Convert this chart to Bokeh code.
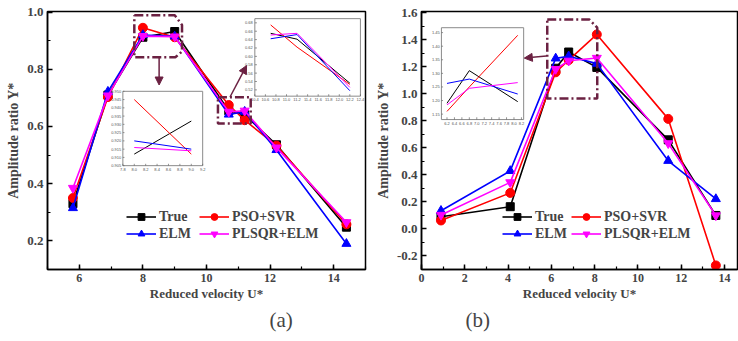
from bokeh.plotting import figure
from bokeh.layouts import row
from bokeh.models import (Range1d, SingleIntervalTicker, NumeralTickFormatter, Legend,
                          LegendItem, Arrow, NormalHead, Title)
from bokeh.embed import file_html
from bokeh.resources import INLINE

# ---------------- data ----------------
series_names = ["True", "PSO+SVR", "ELM", "PLSQR+ELM"]

# panel (a)
x_a = [5.8, 6.9, 8.0, 9.0, 10.7, 11.2, 12.2, 14.4]
true_a = [0.33, 0.71, 0.912, 0.932, 0.655, 0.641, 0.536, 0.248]
pso_a = [0.35, 0.703, 0.945, 0.912, 0.675, 0.622, 0.533, 0.258]
elm_a = [0.315, 0.722, 0.920, 0.915, 0.642, 0.652, 0.518, 0.19]
plsqr_a = [0.385, 0.708, 0.916, 0.914, 0.651, 0.655, 0.526, 0.265]

# panel (b)
x_b = [0.9, 4.1, 6.2, 6.8, 8.1, 11.4, 13.6]
true_b = [0.09, 0.165, 1.19, 1.31, 1.196, 0.66, 0.10]
pso_b = [0.063, 0.267, 1.16, 1.25, 1.44, 0.815, -0.27]
elm_b = [0.135, 0.43, 1.263, 1.279, 1.224, 0.505, 0.222]
plsqr_b = [0.104, 0.345, 1.184, 1.245, 1.266, 0.634, 0.10]

# inset tick values
inset_a1_xticks = [7.8, 8.0, 8.2, 8.4, 8.6, 8.8, 9.0, 9.2]
inset_a1_yticks = [0.905, 0.910, 0.915, 0.920, 0.925, 0.930, 0.935, 0.940, 0.945, 0.950]
inset_a2_xticks = [10.4, 10.6, 10.8, 11.0, 11.2, 11.4, 11.6, 11.8, 12.0, 12.2, 12.4]
inset_a2_yticks = [0.52, 0.54, 0.56, 0.58, 0.60, 0.62, 0.64, 0.66, 0.68]
inset_b_xticks = [6.2, 6.4, 6.6, 6.8, 7.0, 7.2, 7.4, 7.6, 7.8, 8.0, 8.2]
inset_b_yticks = [1.15, 1.20, 1.25, 1.30, 1.35, 1.40, 1.45]

# ---------------- styles ----------------
colors = ["#000000", "#ff0000", "#0000ff", "#ff00ff"]
markers = ["square", "circle", "triangle", "inverted_triangle"]
msizes = [8, 9, 9, 9]
FONT = "Liberation Serif"
MAROON = "#6b2142"


def style_axes(p, xint, yint):
    p.xaxis.ticker = SingleIntervalTicker(interval=xint, num_minor_ticks=2)
    p.yaxis.ticker = SingleIntervalTicker(interval=yint, num_minor_ticks=2)
    p.yaxis.formatter = NumeralTickFormatter(format="0.0")
    for ax in (p.xaxis[0], p.yaxis[0]):
        ax.axis_line_width = 1.5
        ax.major_tick_in = 5
        ax.major_tick_out = 0
        ax.minor_tick_in = 3
        ax.minor_tick_out = 0
        ax.major_tick_line_width = 1.5
        ax.minor_tick_line_width = 1.2
        ax.major_label_text_font = FONT
        ax.major_label_text_font_style = "bold"
        ax.axis_label_text_font = FONT
        ax.axis_label_text_font_style = "bold"
    p.xaxis.major_label_text_font_size = "12px"
    p.yaxis.major_label_text_font_size = "13px"
    p.xaxis.major_label_standoff = 4
    p.yaxis.major_label_standoff = 4
    p.xaxis.axis_label = "Reduced velocity U*"
    p.yaxis.axis_label = "Amplitude ratio Y*"
    p.xaxis.axis_label_text_font_size = "13px"
    p.yaxis.axis_label_text_font_size = "14px"
    p.xaxis.axis_label_standoff = 1
    p.yaxis.axis_label_standoff = 3
    p.grid.visible = False
    p.outline_line_color = "black"
    p.outline_line_width = 1.5


def draw_series(p, xs, series):
    items = []
    for name, ys, c, m, s in zip(series_names, series, colors, markers, msizes):
        r1 = p.line(xs, ys, line_color=c, line_width=1.6)
        r2 = p.scatter(xs, ys, marker=m, size=s, fill_color=c, line_color=c)
        items.append(LegendItem(label=name, renderers=[r1, r2]))
    return items


def add_legend(p, items, loc, label_width):
    lg = Legend(items=items, orientation="horizontal", nrows=2, location=loc,
                glyph_width=30, glyph_height=17, label_height=17, label_width=label_width,
                label_standoff=3, spacing=0, padding=0, margin=0, border_line_alpha=0,
                background_fill_alpha=0, label_text_font=FONT,
                label_text_font_style="bold", label_text_font_size="14px")
    p.add_layout(lg)


def add_inset(p, xs, series, xsrc, ysrc, xtgt, ytgt, xticks, yticks, xfmt, yfmt):
    sub = p.subplot(x_source=Range1d(*xsrc), y_source=Range1d(*ysrc),
                    x_target=Range1d(*xtgt), y_target=Range1d(*ytgt))
    sub.quad(left=[xsrc[0]], right=[xsrc[1]], bottom=[ysrc[0]], top=[ysrc[1]],
             fill_color="white", line_color="#8a8a8a", line_width=1)
    idx = [i for i, x in enumerate(xs) if xsrc[0] <= x <= xsrc[1]]
    for ys, c in zip(series, colors):
        sub.line([xs[i] for i in idx], [ys[i] for i in idx], line_color=c, line_width=1)
    dy = (ysrc[1] - ysrc[0]) * 0.025
    dx = (xsrc[1] - xsrc[0]) * 0.02
    nx, ny = len(xticks), len(yticks)
    sub.segment(x0=xticks, y0=[ysrc[0]] * nx, x1=xticks, y1=[ysrc[0] + dy] * nx,
                line_color="#666666", line_width=0.7)
    sub.segment(x0=[xsrc[0]] * ny, y0=yticks, x1=[xsrc[0] + dx] * ny, y1=yticks,
                line_color="#666666", line_width=0.7)
    sub.text(x=xticks, y=[ysrc[0] - dy] * nx, text=[xfmt.format(t) for t in xticks],
             text_font_size="4px", text_align="center", text_baseline="top",
             text_color="#555555")
    sub.text(x=[xsrc[0] - dx] * ny, y=yticks, text=[yfmt.format(t) for t in yticks],
             text_font_size="4px", text_align="right", text_baseline="middle",
             text_color="#555555")


def dash_box(p, xs, ys):
    p.line(xs, ys, line_color=MAROON, line_width=2.5, line_dash="9 3 2 3")


def arrow(p, x0, y0, x1, y1):
    p.add_layout(Arrow(end=NormalHead(size=8, fill_color=MAROON, line_color=MAROON),
                       x_start=x0, y_start=y0, x_end=x1, y_end=y1,
                       line_color=MAROON, line_width=1.5))


def caption(p, text, offset):
    p.add_layout(Title(text=text, align="left", offset=offset, text_font=FONT,
                       text_font_size="21px", text_font_style="normal", standoff=4),
                 "below")


# ---------------- panel (a) ----------------
pa = figure(width=370, height=333, x_range=Range1d(5.0, 15.0), y_range=Range1d(0.1, 1.002),
            output_backend="svg", toolbar_location=None,
            min_border_left=47, min_border_right=5, min_border_top=11, min_border_bottom=61)
style_axes(pa, 2, 0.2)
items_a = draw_series(pa, x_a, [true_a, pso_a, elm_a, plsqr_a])
add_legend(pa, items_a, (79, 27), 40)
add_inset(pa, x_a, [true_a, pso_a, elm_a, plsqr_a], (7.8, 9.2), (0.905, 0.95),
          (7.37, 9.88), (0.463, 0.723), inset_a1_xticks, inset_a1_yticks, "{:.1f}", "{:.3f}")
add_inset(pa, x_a, [true_a, pso_a, elm_a, plsqr_a], (10.4, 12.4), (0.505, 0.69),
          (11.52, 14.84), (0.706, 0.977), inset_a2_xticks, inset_a2_yticks, "{:.1f}", "{:.2f}")
dash_box(pa, [7.73, 9.0, 9.23, 9.23, 9.02, 7.73, 7.73],
         [0.989, 0.989, 0.955, 0.862, 0.842, 0.842, 0.989])
dash_box(pa, [10.36, 11.39, 11.39, 10.36, 10.36], [0.702, 0.702, 0.61, 0.61, 0.702])
arrow(pa, 8.51, 0.842, 8.51, 0.745)
arrow(pa, 10.74, 0.703, 11.26, 0.813)
caption(pa, "(a)", 222)

# ---------------- panel (b) ----------------
pb = figure(width=368, height=333, x_range=Range1d(0.0, 14.6), y_range=Range1d(-0.3, 1.61),
            output_backend="svg", toolbar_location=None,
            min_border_left=51, min_border_right=1, min_border_top=7, min_border_bottom=61)
style_axes(pb, 2, 0.2)
items_b = draw_series(pb, x_b, [true_b, pso_b, elm_b, plsqr_b])
add_legend(pb, items_b, (81, 27), 36)
add_inset(pb, x_b, [true_b, pso_b, elm_b, plsqr_b], (6.05, 8.26), (1.13, 1.468),
          (0.92, 4.72), (0.81, 1.49), inset_b_xticks, inset_b_yticks, "{:.1f}", "{:.2f}")
dash_box(pb, [5.81, 7.76, 8.12, 8.12, 5.81, 5.81], [1.55, 1.55, 1.49, 0.966, 0.966, 1.55])
arrow(pb, 5.77, 1.28, 4.75, 1.265)
caption(pb, "(b)", 44)

layout = row(pa, pb)
open("out.html", "w").write(file_html(layout, INLINE))
